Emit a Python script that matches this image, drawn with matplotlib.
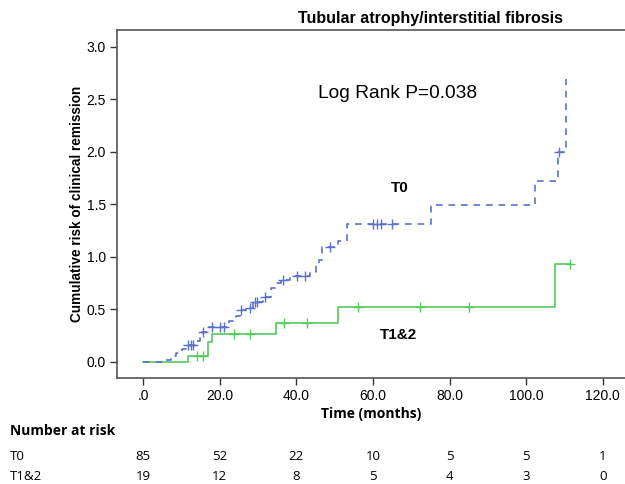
import numpy as np
import matplotlib
matplotlib.use("Agg")
import matplotlib.pyplot as plt
from matplotlib.transforms import blended_transform_factory

# ---- data ----
t0_times = [5.7, 7.2, 8.7, 10.2, 11.2, 13.8, 14.8, 15.4, 17.3, 22.5, 24.3, 25.3, 26.8,
            28.6, 31.2, 33.3, 34.6, 36.0, 38.3, 43.6, 45.2, 46.0, 46.6, 50.8, 53.2,
            75.2, 102.3, 108.3, 110.4]
t0_cumhaz = [0.012, 0.05, 0.085, 0.12, 0.155, 0.20, 0.245, 0.286, 0.335, 0.388, 0.44, 0.49, 0.51,
             0.57, 0.62, 0.70, 0.746, 0.778, 0.816, 0.857, 0.914, 0.97, 1.09, 1.15, 1.31,
             1.49, 1.72, 2.0, 2.69]
t0_censored = [11.8, 12.4, 13.0, 15.6, 17.9, 20.1, 21.1, 25.6, 27.8, 29.2, 29.8, 31.9,
               36.6, 40.1, 42.3, 48.8, 60.1, 61.0, 62.1, 65.1, 108.6]

t12_times = [11.8, 16.9, 18.1, 34.7, 51.0, 107.4]
t12_cumhaz = [0.057, 0.19, 0.264, 0.371, 0.524, 0.93]
t12_censored = [14.0, 15.7, 23.8, 27.9, 36.9, 42.9, 56.0, 72.2, 85.2, 111.5]

risk_times = [0, 20, 40, 60, 80, 100, 120]
risk_t0 = [85, 52, 22, 10, 5, 5, 1]
risk_t12 = [19, 12, 8, 5, 4, 3, 0]

x_ticks = [0, 20, 40, 60, 80, 100, 120]
x_ticklabels = [".0", "20.0", "40.0", "60.0", "80.0", "100.0", "120.0"]
y_ticks = [0.0, 0.5, 1.0, 1.5, 2.0, 2.5, 3.0]
y_ticklabels = ["0.0", "0.5", "1.0", "1.5", "2.0", "2.5", "3.0"]

BLUE = "#5a72c8"
GREEN = "#55c95d"

plt.rcParams['font.family'] = ['Liberation Sans', 'DejaVu Sans']

fig = plt.figure(figsize=(6.25, 4.84), dpi=100)
ax = fig.add_axes([117/625, 1-378/484, 1-117/625, (378-30)/484])


def step_value(times, vals, t):
    idx = np.searchsorted(np.asarray(times), t, side='right') - 1
    return 0.0 if idx < 0 else vals[idx]


def draw(times, vals, cens, end, color, ls, dashes=None):
    xs = [0] + list(times)
    ys = [0] + list(vals)
    if end > xs[-1]:
        xs.append(end)
        ys.append(ys[-1])
    line, = ax.step(xs, ys, where='post', color=color, lw=1.2, linestyle=ls)
    if dashes:
        line.set_dashes(dashes)
    cy = [step_value(times, vals, c) for c in cens]
    ax.plot(cens, cy, linestyle='none', marker='+', color=color, ms=6.5, mew=1.0)


draw(t12_times, t12_cumhaz, t12_censored, max(t12_censored), GREEN, '-')
draw(t0_times, t0_cumhaz, t0_censored, max(t0_times), BLUE, '--', dashes=(4, 3.5))

ax.set_xlim(-6.8, 125.8)
ax.set_ylim(-0.155, 3.16)
ax.set_xticks(x_ticks)
ax.set_xticklabels(x_ticklabels)
ax.set_yticks(y_ticks)
ax.set_yticklabels(y_ticklabels)
ax.tick_params(direction='out', length=5, width=1, colors='#333333', labelsize=10,
               labelcolor='black', pad=3)
for s in ['left', 'bottom', 'top']:
    ax.spines[s].set_color('#555555')
    ax.spines[s].set_linewidth(1.2)
ax.spines['right'].set_visible(False)

tfont = ['Open Sans', 'DejaVu Sans']

ax.set_xlabel("Time (months)", fontsize=10, fontweight='bold', labelpad=2.5, family=tfont)
ax.set_ylabel("Cumulative risk of clinical remission", fontsize=9.8, fontweight='bold',
              labelpad=2)

fig.text(431/625, 1-18/484, "Tubular atrophy/interstitial fibrosis", ha='center', va='center',
         fontsize=11.5, fontweight='bold')
fig.text(398/625, 1-93/484, "Log Rank P=0.038", ha='center', va='center', fontsize=13.8)
fig.text(400/625, 1-188/484, "T0", ha='center', va='center', fontsize=11, fontweight='bold')
fig.text(399/625, 1-335/484, "T1&2", ha='center', va='center', fontsize=11, fontweight='bold')

# number at risk table
trans = blended_transform_factory(ax.transData, fig.transFigure)
fig.text(10/625, 1-431/484, "Number at risk", ha='left', va='center', fontsize=10,
         fontweight='bold', family=tfont)
fig.text(10/625, 1-456/484, "T0", ha='left', va='center', fontsize=9.5, family=tfont)
fig.text(10/625, 1-477/484, "T1&2", ha='left', va='center', fontsize=9.5, family=tfont)
for t, a, b in zip(risk_times, risk_t0, risk_t12):
    ax.text(t, 1-456/484, str(a), transform=trans, ha='center', va='center', fontsize=9.5,
            family=tfont, clip_on=False)
    ax.text(t, 1-477/484, str(b), transform=trans, ha='center', va='center', fontsize=9.5,
            family=tfont, clip_on=False)

fig.savefig("out.png", dpi=100)
